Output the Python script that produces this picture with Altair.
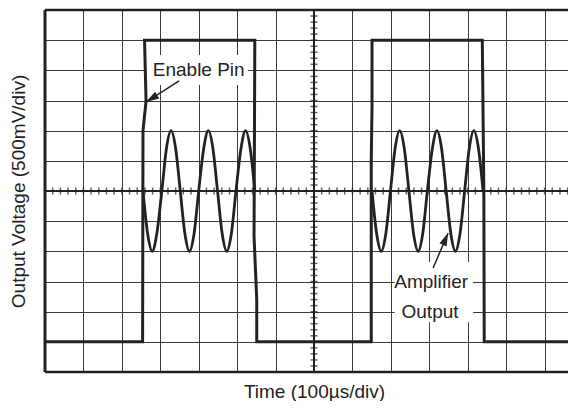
import altair as alt
import pandas as pd

X_TITLE = "Time (100µs/div)"
Y_TITLE = "Output Voltage (500mV/div)"

# grid divisions (scope screen: 14 x 12 divisions, centre at 0,0; right edge cropped)
grid_x = list(range(-7, 7))
grid_y = list(range(-6, 7))
X_MIN, X_MAX = -7, 6.61
Y_MIN, Y_MAX = -6, 6

# Enable pin square wave (divisions)
pulse_x = [-7, -4.46, -4.45, -4.37, -4.41, -1.54, -1.56, -1.49, -1.49, 1.49, 1.49, 1.51, 1.51, 4.38, 4.42, 4.43, 6.61]
pulse_y = [-5, -5, 2.0, 2.98, 5, 5, -1.5, -3.6, -5, -5, 1.0, 2.8, 5, 5, 0, -5, -5]

# Amplifier output bursts (divisions)
sine1_x = [-4.45, -4.33, -4.21, -4.09, -3.96, -3.84, -3.72, -3.60, -3.48, -3.36, -3.24, -3.12, -3.00,
           -2.87, -2.75, -2.63, -2.51, -2.39, -2.27, -2.15, -2.03, -1.90, -1.78, -1.66, -1.54]
sine1_y = [0, -1.41, -2, -1.41, 0, 1.41, 2, 1.41, 0, -1.41, -2, -1.41, 0,
           1.41, 2, 1.41, 0, -1.41, -2, -1.41, 0, 1.41, 2, 1.41, 0]
sine2_x = [1.51, 1.63, 1.75, 1.87, 1.99, 2.11, 2.23, 2.35, 2.47, 2.59, 2.71, 2.83, 2.95,
           3.08, 3.20, 3.32, 3.44, 3.56, 3.68, 3.80, 3.92, 4.04, 4.16, 4.28, 4.40]
sine2_y = [0, -1.41, -2, -1.41, 0, 1.41, 2, 1.41, 0, -1.41, -2, -1.41, 0,
           1.41, 2, 1.41, 0, -1.41, -2, -1.41, 0, 1.41, 2, 1.41, 0]

# centre graticule minor ticks (1/5 division)
tick_x = [round(i * 0.2, 2) for i in range(-34, 34)]
tick_y = [round(i * 0.2, 2) for i in range(-29, 30)]

# annotations
label_text = ["Enable Pin", "Amplifier", "Output"]
label_x = [-3.0, 3.05, 3.02]
label_y = [4.0, -3.0, -4.0]
box_x1 = [-4.35, 2.10]
box_x2 = [-1.72, 4.14]
box_y1 = [3.51, -2.35]
box_y2 = [4.51, -4.35]
arrow_x1 = [-3.51, 3.10]
arrow_y1 = [3.65, -2.55]
arrow_x2 = [-4.37, 3.49]
arrow_y2 = [2.95, -1.39]
arrow_angle = [238, 23]

INK = "#222222"
FONT = "Liberation Sans"

xscale = alt.Scale(domain=[X_MIN, X_MAX], nice=False, zero=False)
yscale = alt.Scale(domain=[Y_MIN, Y_MAX], nice=False, zero=False)
xaxis = alt.Axis(values=grid_x, grid=True, gridColor="#3a3a3a", gridWidth=1, labels=False, ticks=False,
                 domain=False, title=X_TITLE, titleFont=FONT, titleFontSize=19, titleFontWeight="normal",
                 titleColor=INK, titlePadding=25, titleBaseline="alphabetic", titleX=269)
yaxis = alt.Axis(values=grid_y, grid=True, gridColor="#3a3a3a", gridWidth=1, labels=False, ticks=False,
                 domain=False, title=Y_TITLE, titleFont=FONT, titleFontSize=19, titleFontWeight="normal",
                 titleColor=INK, titlePadding=17)


def X(f):
    return alt.X(f, type="quantitative", scale=xscale, axis=xaxis)


def Y(f):
    return alt.Y(f, type="quantitative", scale=yscale, axis=yaxis)


pulse_df = pd.DataFrame({"x": pulse_x, "y": pulse_y, "i": range(len(pulse_x))})
sine_df = pd.concat([
    pd.DataFrame({"x": sine1_x, "y": sine1_y, "s": "a", "i": range(len(sine1_x))}),
    pd.DataFrame({"x": sine2_x, "y": sine2_y, "s": "b", "i": range(len(sine2_x))}),
])
box_df = pd.DataFrame({"x": box_x1, "x2": box_x2, "y": box_y1, "y2": box_y2})
label_df = pd.DataFrame({"x": label_x, "y": label_y, "t": label_text})
arrow_df = pd.DataFrame({"x": arrow_x1, "y": arrow_y1, "x2": arrow_x2, "y2": arrow_y2, "a": arrow_angle})
tickx_df = pd.DataFrame({"x": tick_x, "y": 0})
ticky_df = pd.DataFrame({"x": 0, "y": tick_y})
border_v_df = pd.DataFrame({"x": [X_MIN]})
border_h_df = pd.DataFrame({"y": [Y_MIN, Y_MAX]})

boxes = alt.Chart(box_df).mark_rect(fill="white", stroke=None).encode(
    x=X("x"), x2="x2", y=Y("y"), y2="y2")

hline = alt.Chart(tickx_df).mark_rule(color=INK, strokeWidth=2).encode(y=Y("y"))
vline = alt.Chart(ticky_df).mark_rule(color=INK, strokeWidth=1.6).encode(x=X("x"))
ticks_h = alt.Chart(tickx_df).mark_tick(orient="vertical", size=7, thickness=1.5, color=INK).encode(
    x=X("x"), y=Y("y"))
ticks_v = alt.Chart(ticky_df).mark_tick(orient="horizontal", size=7, thickness=1.5, color=INK).encode(
    x=X("x"), y=Y("y"))

border_left = alt.Chart(border_v_df).mark_rule(color=INK, strokeWidth=3).encode(x=X("x"))
border_tb = alt.Chart(border_h_df).mark_rule(color=INK, strokeWidth=2.5).encode(y=Y("y"))

pulse = alt.Chart(pulse_df).mark_line(color=INK, strokeWidth=3, strokeJoin="miter").encode(
    x=X("x"), y=Y("y"), order="i:Q")
sine = alt.Chart(sine_df).mark_line(color=INK, strokeWidth=2.8, interpolate="monotone").encode(
    x=X("x"), y=Y("y"), detail="s:N", order="i:Q")

arrow_lines = alt.Chart(arrow_df).mark_rule(color=INK, strokeWidth=1.5).encode(
    x=X("x"), y=Y("y"), x2="x2", y2="y2")
arrow_heads = alt.Chart(arrow_df).mark_point(
    shape="M0,0L0.6,2L-0.6,2Z", filled=True, size=169, color=INK, opacity=1).encode(
    x=X("x2"), y=Y("y2"), angle=alt.Angle("a:Q", scale=None))

labels = alt.Chart(label_df).mark_text(font=FONT, fontSize=19, color=INK, align="center",
                                       baseline="middle").encode(x=X("x"), y=Y("y"), text="t:N")

chart = alt.layer(
    boxes, hline, vline, ticks_h, ticks_v, pulse, sine, arrow_lines, arrow_heads, labels,
    border_left, border_tb
).properties(
    width=523, height=362,
    autosize=alt.AutoSizeParams(type="none"),
    padding={"left": 37, "top": 2, "right": 0, "bottom": 29},
).configure_view(stroke=None).configure(background="white")

chart.save("out.html", embed_options={"renderer": "svg", "actions": False})
